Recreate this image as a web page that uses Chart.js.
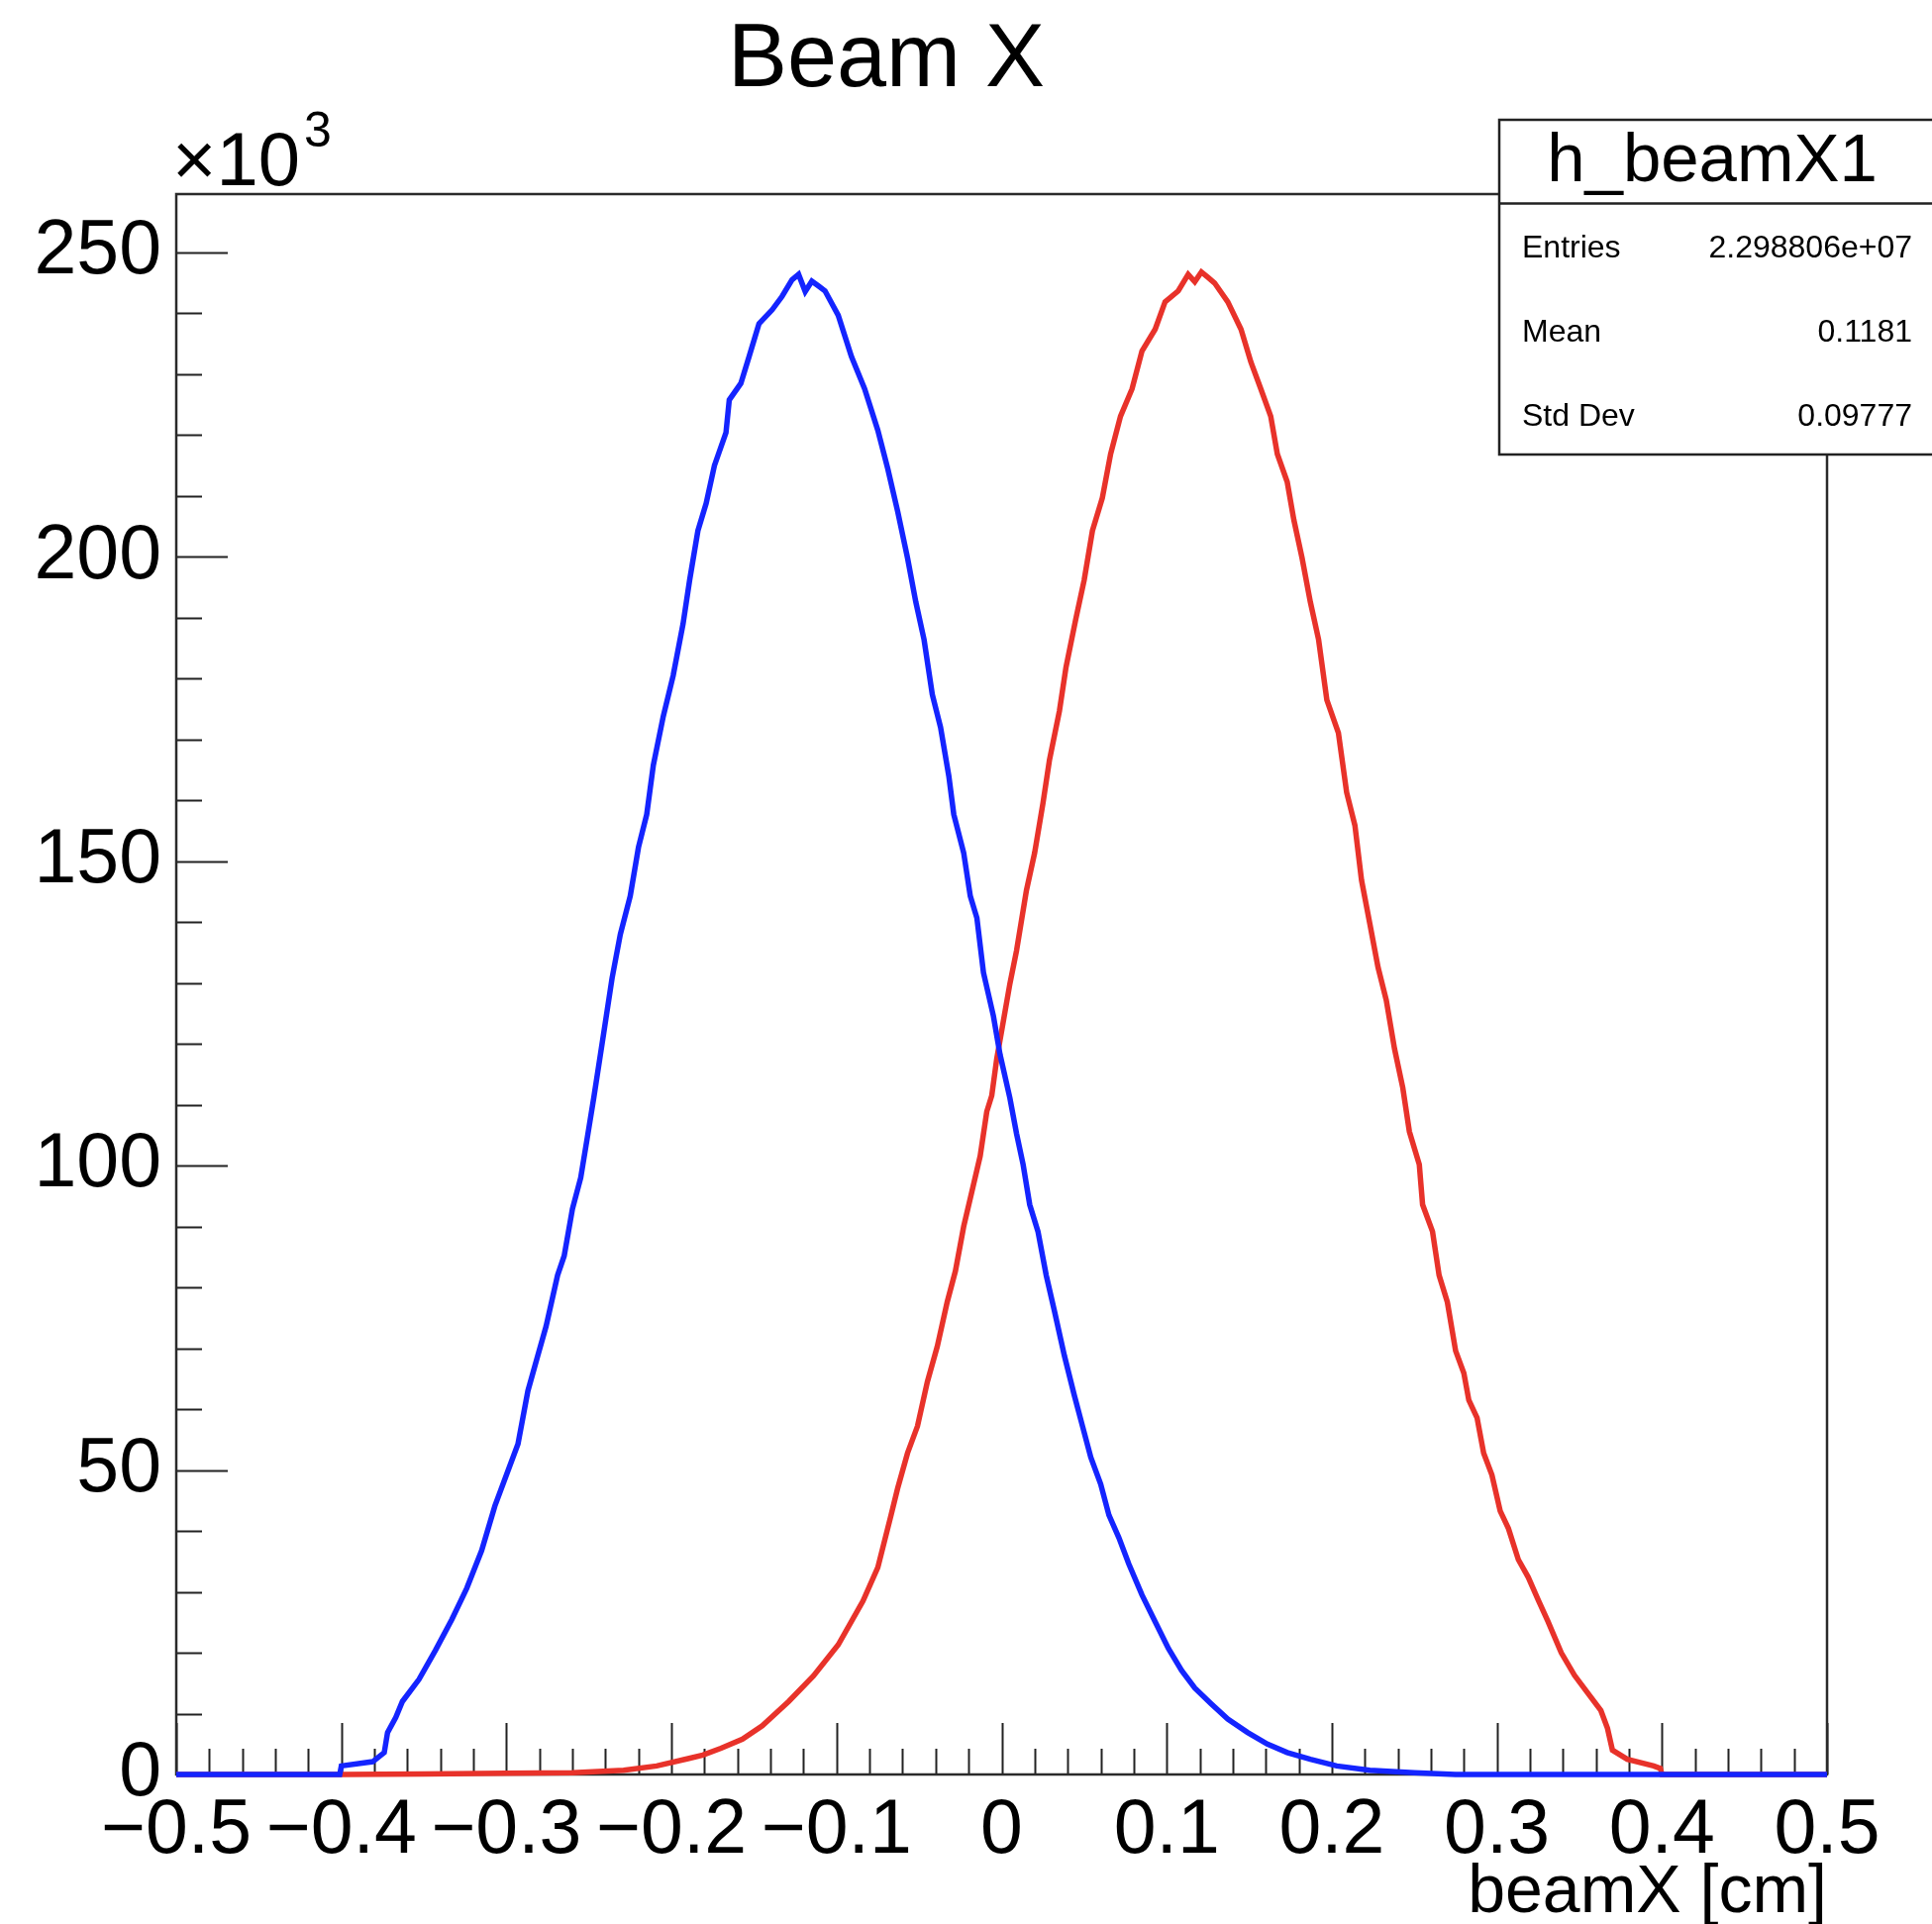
<!DOCTYPE html>
<html>
<head>
<meta charset="utf-8">
<title>Beam X</title>
<script src="https://cdn.jsdelivr.net/npm/chart.js@4.4.1/dist/chart.umd.min.js"></script>
<style>
  html, body { margin: 0; padding: 0; background: #fff; }
  #wrap { width: 1951px; height: 1943px; }
</style>
</head>
<body>
<div id="wrap"><canvas id="c" width="1951" height="1943"></canvas></div>
<script>
// ─── Données (comptages en unités de 10^3) ────────────────────────────
const blueX = [-0.5, -0.401, -0.400, -0.381, -0.374, -0.372, -0.367, -0.363, -0.353, -0.343, -0.333, -0.324,
  -0.315, -0.307, -0.300, -0.293, -0.287, -0.281, -0.276, -0.269, -0.265, -0.260, -0.255, -0.251, -0.247,
  -0.241, -0.236, -0.231, -0.225, -0.220, -0.215, -0.211, -0.205, -0.199, -0.193, -0.189, -0.184, -0.179,
  -0.174, -0.167, -0.165, -0.158, -0.153, -0.147, -0.139, -0.133, -0.127, -0.123, -0.119, -0.115, -0.111,
  -0.107, -0.099, -0.091, -0.083, -0.075, -0.069, -0.063, -0.057, -0.052, -0.047, -0.042, -0.037, -0.032,
  -0.029, -0.023, -0.019, -0.015, -0.011, -0.005, -0.001, 0.005, 0.009, 0.013, 0.017, 0.022, 0.027, 0.032,
  0.038, 0.044, 0.049, 0.054, 0.060, 0.065, 0.071, 0.077, 0.085, 0.093, 0.101, 0.109, 0.117, 0.127, 0.137,
  0.149, 0.161, 0.173, 0.187, 0.203, 0.223, 0.250, 0.275, 0.5];
const blueCounts = [0, 0, 1.4, 2.1, 3.6, 6.9, 9.4, 12.0, 15.6, 20.4, 25.5, 30.6,
  36.8, 44.1, 49.2, 54.3, 63.0, 68.8, 73.6, 82.0, 85.2, 92.9, 98.0, 104.6, 111.3,
  121.9, 130.8, 138.0, 144.3, 152.3, 157.7, 165.8, 173.8, 180.5, 189.0, 196.2, 204.3, 208.8,
  215.0, 220.4, 225.8, 228.5, 232.9, 238.3, 240.6, 242.8, 245.5, 246.4, 243.6, 245.3, 244.5,
  243.7, 239.7, 232.9, 227.6, 220.8, 214.5, 207.5, 199.8, 192.6, 186.4, 177.4, 172.0, 164.0,
  157.7, 151.4, 144.3, 140.7, 131.7, 124.6, 118.3, 111.1, 105.3, 100.2, 93.6, 89.2, 82.0, 76.1,
  68.8, 62.3, 57.2, 52.1, 47.7, 42.6, 38.9, 34.6, 29.5, 25.1, 20.7, 17.1, 14.2, 11.6, 9.1,
  6.9, 5.0, 3.6, 2.5, 1.4, 0.7, 0.3, 0, 0];

const redX = [-0.5, -0.400, -0.350, -0.300, -0.260, -0.229, -0.209, -0.190, -0.181, -0.170, -0.157, -0.145,
  -0.129, -0.114, -0.099, -0.084, -0.075, -0.067, -0.063, -0.057, -0.051, -0.045, -0.039, -0.033, -0.028,
  -0.023, -0.018, -0.013, -0.009, -0.006, -0.003, 0.001, 0.005, 0.009, 0.015, 0.020, 0.025, 0.029, 0.035,
  0.039, 0.045, 0.050, 0.055, 0.061, 0.066, 0.072, 0.079, 0.085, 0.093, 0.099, 0.107, 0.113, 0.117, 0.121,
  0.125, 0.129, 0.137, 0.145, 0.151, 0.157, 0.163, 0.167, 0.173, 0.177, 0.182, 0.187, 0.192, 0.197, 0.204,
  0.209, 0.214, 0.218, 0.223, 0.228, 0.233, 0.238, 0.243, 0.247, 0.253, 0.255, 0.261, 0.265, 0.270, 0.275,
  0.280, 0.283, 0.288, 0.292, 0.297, 0.302, 0.307, 0.313, 0.319, 0.325, 0.331, 0.339, 0.347, 0.355, 0.363,
  0.367, 0.370, 0.379, 0.395, 0.399, 0.400, 0.5];
const redCounts = [0, 0, 0.1, 0.2, 0.3, 0.7, 1.4, 2.6, 3.2, 4.3, 5.8, 8.0,
  12.0, 16.2, 21.3, 28.5, 34.0, 42.6, 47.0, 52.8, 57.2, 64.5, 70.3, 77.6, 82.7,
  90.0, 95.8, 101.6, 108.9, 111.5, 117.5, 123.7, 129.9, 135.3, 145.2, 151.4, 159.5, 166.7, 174.7,
  181.9, 189.9, 196.2, 204.3, 209.7, 216.9, 223.1, 227.6, 233.8, 237.4, 241.9, 243.7, 246.4, 245.2, 246.8,
  245.9, 245.0, 241.9, 237.4, 232.0, 227.6, 223.1, 216.9, 212.3, 206.1, 199.8, 192.6, 186.4, 176.5, 171.1,
  161.3, 155.9, 146.9, 139.8, 132.6, 127.2, 119.2, 112.8, 105.6, 100.2, 93.6, 89.2, 82.0, 77.6, 69.6,
  65.9, 61.5, 58.6, 52.8, 49.2, 43.3, 40.4, 35.3, 32.4, 28.7, 25.1, 20.0, 16.3, 13.4, 10.5,
  7.6, 4.0, 2.5, 1.4, 1.0, 0, 0];

const xTickValues = [-0.5, -0.4, -0.3, -0.2, -0.1, 0, 0.1, 0.2, 0.3, 0.4, 0.5];
const yTickValues = [0, 50, 100, 150, 200, 250];
const statsLabels = ["Entries", "Mean", "Std Dev"];
const statsValues = ["2.298806e+07", "0.1181", "0.09777"];

const FONT = '"Liberation Sans", Arial, Helvetica, sans-serif';

const toPoints = (xs, ys) => xs.map((x, i) => ({ x: x, y: ys[i] }));

const fmtX = (v) => {
    if (Math.abs(v) < 1e-9) return "0";
    return (v < 0 ? "\u2212" : "") + Math.abs(v).toFixed(1);
};

// ─── Cadre, graduations et boîte de stats façon ROOT ─────────────────
const rootFrame = {
    id: "rootFrame",
    beforeDatasetsDraw(chart) {
        const { ctx, chartArea: a, scales: { x, y } } = chart;
        ctx.save();
        ctx.strokeStyle = "#222";
        ctx.lineWidth = 2;
        ctx.beginPath();
        for (let k = 0; k * 10 <= y.max; k++) {
            const py = Math.round(y.getPixelForValue(k * 10)) + 0.5;
            const len = k % 5 === 0 ? 52 : 26;
            ctx.moveTo(a.left, py);
            ctx.lineTo(a.left + len, py);
        }
        for (let k = 0; k <= 50; k++) {
            const px = Math.round(x.getPixelForValue(-0.5 + k * 0.02)) + 0.5;
            const len = k % 5 === 0 ? 52 : 26;
            ctx.moveTo(px, a.bottom);
            ctx.lineTo(px, a.bottom - len);
        }
        ctx.stroke();
        ctx.strokeStyle = "#2a2a2a";
        ctx.lineWidth = 2.5;
        ctx.strokeRect(a.left, a.top, a.right - a.left, a.bottom - a.top);
        ctx.restore();
    },
    afterDraw(chart) {
        const { ctx, chartArea: a } = chart;
        ctx.save();
        ctx.fillStyle = "#000";

        // Titre
        ctx.font = `90px ${FONT}`;
        ctx.textAlign = "center";
        ctx.textBaseline = "alphabetic";
        ctx.fillText("Beam X", 895, 87);

        // ×10^3
        ctx.textAlign = "left";
        ctx.font = `76px ${FONT}`;
        const base = "\u00d710";
        ctx.fillText(base, a.left - 4, 187);
        const w = ctx.measureText(base).width;
        ctx.font = `50px ${FONT}`;
        ctx.fillText("3", a.left - 4 + w + 4, 148);

        // Titre de l'axe X
        ctx.font = `68px ${FONT}`;
        ctx.textAlign = "right";
        ctx.fillText("beamX [cm]", a.right, 1931);

        // Boîte de statistiques
        const bx = 1514, by = 121, bw = 440, bh = 338;
        ctx.fillStyle = "#fff";
        ctx.fillRect(bx, by, bw, bh);
        ctx.strokeStyle = "#222";
        ctx.lineWidth = 2.5;
        ctx.strokeRect(bx, by, bw, bh);
        ctx.beginPath();
        ctx.moveTo(bx, 205.5);
        ctx.lineTo(bx + bw, 205.5);
        ctx.stroke();

        ctx.fillStyle = "#000";
        ctx.font = `69px ${FONT}`;
        ctx.textAlign = "center";
        ctx.fillText("h_beamX1", 1729, 183);

        ctx.font = `32px ${FONT}`;
        const rows = [260, 345, 430];
        statsLabels.forEach((lab, i) => {
            ctx.textAlign = "left";
            ctx.fillText(lab, 1537, rows[i]);
            ctx.textAlign = "right";
            ctx.fillText(statsValues[i], 1931, rows[i]);
        });
        ctx.restore();
    }
};

new Chart(document.getElementById("c"), {
    type: "line",
    data: {
        datasets: [
            {
                label: "h_beamX2",
                data: toPoints(blueX, blueCounts),
                borderColor: "#1424ff",
                borderWidth: 5.5,
                pointRadius: 0,
                tension: 0,
                clip: 8,
            },
            {
                label: "h_beamX1",
                data: toPoints(redX, redCounts),
                borderColor: "#e8322a",
                borderWidth: 5.5,
                pointRadius: 0,
                tension: 0,
                clip: 8,
            }
        ]
    },
    options: {
        responsive: false,
        animation: false,
        devicePixelRatio: 1,
        layout: { padding: { left: 0, right: 106, top: 196, bottom: 0 } },
        plugins: { legend: { display: false }, tooltip: { enabled: false } },
        scales: {
            x: {
                type: "linear",
                min: -0.5,
                max: 0.5,
                afterBuildTicks: (s) => { s.ticks = xTickValues.map(v => ({ value: v })); },
                afterFit: (s) => { s.height = 151; },
                grid: { display: false, drawTicks: false },
                border: { display: false },
                ticks: {
                    autoSkip: false,
                    maxRotation: 0,
                    padding: 12,
                    color: "#000",
                    font: { family: FONT, size: 77 },
                    callback: (v) => fmtX(v),
                }
            },
            y: {
                type: "linear",
                min: 0,
                max: 259.6,
                afterBuildTicks: (s) => { s.ticks = yTickValues.map(v => ({ value: v })); },
                afterFit: (s) => { s.width = 178; },
                grid: { display: false, drawTicks: false },
                border: { display: false },
                ticks: {
                    autoSkip: false,
                    padding: 15,
                    color: "#000",
                    font: { family: FONT, size: 77 },
                }
            }
        }
    },
    plugins: [rootFrame]
});
</script>
</body>
</html>
